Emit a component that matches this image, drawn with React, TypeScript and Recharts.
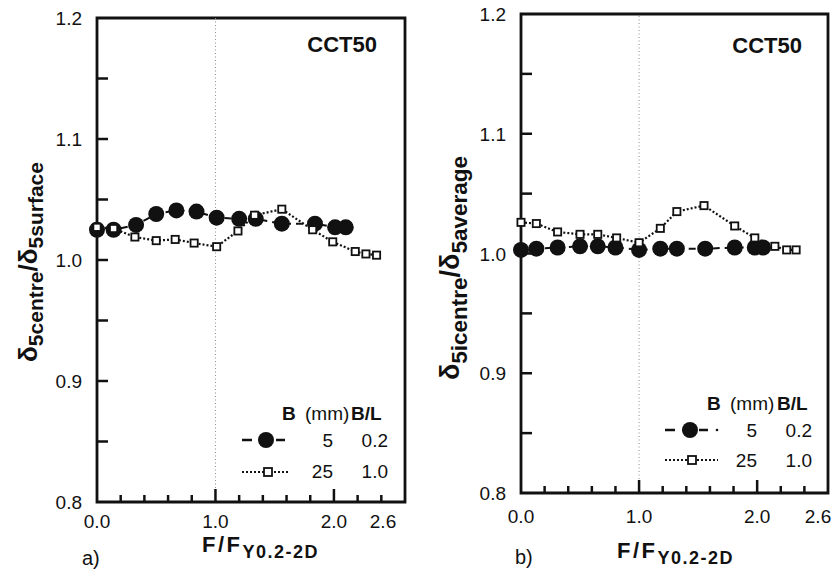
import React from 'react';
import { ComposedChart, Line, XAxis, YAxis, ReferenceLine, ReferenceArea, Legend } from 'recharts';

const FONT = '"Liberation Sans", Arial, Helvetica, sans-serif';
const INK = '#111111';

// axis ticks
const xTicks = [0, 0.2, 0.4, 0.6, 0.8, 1.0, 1.2, 1.4, 1.6, 1.8, 2.0, 2.2, 2.4, 2.6];
const xTickLabels = [0, 1, 2, 2.6];
const xMajorTicks = [1, 2];
const yTicks = [0.8, 0.85, 0.9, 0.95, 1.0, 1.05, 1.1, 1.15, 1.2];
const yTickLabels = [0.8, 0.9, 1.0, 1.1, 1.2];
const xDomain: [number, number] = [0, 2.6];
const yDomain: [number, number] = [0.8, 1.2];

// panel a) δ5centre/δ5surface
const aB5x = [0.0, 0.14, 0.33, 0.5, 0.67, 0.84, 1.01, 1.2, 1.34, 1.56, 1.84, 2.01, 2.1];
const aB5y = [1.025, 1.025, 1.029, 1.038, 1.041, 1.04, 1.035, 1.034, 1.034, 1.03, 1.03, 1.027, 1.027];
const aB25x = [0.0, 0.14, 0.32, 0.5, 0.66, 0.82, 1.01, 1.19, 1.33, 1.56, 1.82, 1.99, 2.18, 2.27, 2.36];
const aB25y = [1.027, 1.026, 1.019, 1.016, 1.017, 1.014, 1.011, 1.024, 1.037, 1.042, 1.025, 1.015, 1.007, 1.005, 1.004];

// panel b) δ5centre/δ5average
const bB5x = [0.0, 0.13, 0.31, 0.5, 0.65, 0.8, 1.0, 1.18, 1.32, 1.56, 1.81, 1.98, 2.05];
const bB5y = [1.003, 1.004, 1.005, 1.006, 1.006, 1.005, 1.003, 1.004, 1.004, 1.004, 1.005, 1.005, 1.005];
const bB25x = [0.0, 0.13, 0.31, 0.5, 0.65, 0.81, 1.0, 1.18, 1.32, 1.55, 1.81, 1.98, 2.15, 2.25, 2.33];
const bB25y = [1.026, 1.025, 1.018, 1.016, 1.016, 1.013, 1.009, 1.021, 1.035, 1.04, 1.023, 1.013, 1.006, 1.003, 1.003];

// legend text
const legendHead = ['B', '(mm)', 'B/L'];
const legendB = ['5', '25'];
const legendBL = ['0.2', '1.0'];

const zip = (xs: number[], ys: number[]) => xs.map((x, i) => ({ x, y: ys[i] }));
const near = (a: number, b: number) => Math.abs(a - b) < 1e-6;
const has = (arr: number[], v: number) => arr.some((a) => near(a, v));

const X_MINOR = 7;
const X_MAJOR = 13;
const Y_TICK = 11;
const TICK_STYLE = { stroke: INK, strokeWidth: 2.5, fill: 'none' };

const isXEdge = (v: number) => near(v, xDomain[0]) || near(v, xDomain[1]);
const isYEdge = (v: number) => near(v, yDomain[0]) || near(v, yDomain[1]);

function BottomTick(props: any) {
  const x = Number(props.x);
  const y = Number(props.y);
  const v = props.payload.value;
  const len = has(xMajorTicks, v) ? X_MAJOR : X_MINOR;
  return (
    <g>
      {!isXEdge(v) && <path d={`M${x},${y}L${x},${y - len}`} style={TICK_STYLE} />}
      {has(xTickLabels, v) && (
        <text x={x + (near(v, xDomain[1]) ? props.lastShift : 0)} y={y + props.labelDy} textAnchor="middle"
          style={{ fontSize: 19, fontFamily: FONT, fill: INK, stroke: 'none' }}>
          {v.toFixed(1)}
        </text>
      )}
    </g>
  );
}

function TopTick(props: any) {
  const x = Number(props.x);
  const y = Number(props.y);
  const v = props.payload.value;
  const len = has(xMajorTicks, v) ? X_MAJOR - 2 : X_MINOR;
  return <g>{!isXEdge(v) && <path d={`M${x},${y}L${x},${y + len}`} style={TICK_STYLE} />}</g>;
}

function LeftTick(props: any) {
  const x = Number(props.x);
  const y = Number(props.y);
  const v = props.payload.value;
  return (
    <g>
      {!isYEdge(v) && <path d={`M${x},${y}L${x + Y_TICK},${y}`} style={TICK_STYLE} />}
      {has(yTickLabels, v) && (
        <text x={x - 15} y={y + 7} textAnchor="end" style={{ fontSize: 19, fontFamily: FONT, fill: INK, stroke: 'none' }}>
          {v.toFixed(1)}
        </text>
      )}
    </g>
  );
}

function RightTick(props: any) {
  const x = Number(props.x);
  const y = Number(props.y);
  const v = props.payload.value;
  return <g>{!isYEdge(v) && <path d={`M${x},${y}L${x - Y_TICK},${y}`} style={TICK_STYLE} />}</g>;
}

const circleDot = (p: any) => <circle key={`c${p.index}`} cx={p.cx} cy={p.cy} r={8} fill={INK} />;
const squareDot = (p: any) => (
  <rect key={`s${p.index}`} x={p.cx - 3.6} y={p.cy - 3.6} width={7.2} height={7.2} fill="#fff" stroke={INK} strokeWidth={1.8} />
);

function LegendBox({ cfg }: { cfg: any }) {
  const t = { fontFamily: FONT, fontSize: 19, fill: INK };
  return (
    <svg width={170} height={95} style={{ display: 'block', overflow: 'visible' }}>
      <text {...t} x={cfg.bX} y={cfg.headY} fontWeight="bold">{legendHead[0]}</text>
      <text {...t} x={cfg.mmX} y={cfg.headY}>{legendHead[1]}</text>
      <text {...t} x={cfg.blX} y={cfg.headY} fontWeight="bold">{legendHead[2]}</text>

      <line x1={cfg.symL} y1={cfg.r1c} x2={cfg.symR} y2={cfg.r1c} stroke={INK} strokeWidth={2.5} strokeDasharray="10 7" />
      {cfg.tailDot && <circle cx={cfg.symR + 9} cy={cfg.r1c} r={1.3} fill={INK} />}
      <circle cx={cfg.circX} cy={cfg.r1c} r={8} fill={INK} />
      <text {...t} x={cfg.numEnd} y={cfg.r1b} textAnchor="end">{legendB[0]}</text>
      <text {...t} x={cfg.ratioEnd} y={cfg.r1b} textAnchor="end">{legendBL[0]}</text>

      <line x1={cfg.symL} y1={cfg.r2c} x2={cfg.symR2} y2={cfg.r2c} stroke={INK} strokeWidth={2} strokeDasharray="2 2" />
      <rect x={cfg.sqX - 4} y={cfg.r2c - 4} width={8} height={8} fill="#fff" stroke={INK} strokeWidth={1.8} />
      <text {...t} x={cfg.numEnd} y={cfg.r2b} textAnchor="end">{legendB[1]}</text>
      <text {...t} x={cfg.ratioEnd} y={cfg.r2b} textAnchor="end">{legendBL[1]}</text>
    </svg>
  );
}

function Panel(props: any) {
  const { width, height, margin, circles, squares, legendCfg, legendPos, lastShift, labelDy } = props;
  const common = { axisLine: false, tickLine: false, tickSize: 0, tickMargin: 0, interval: 0 as const };
  return (
    <ComposedChart width={width} height={height} margin={margin}>
      <XAxis
        {...common} xAxisId="b" type="number" dataKey="x" domain={xDomain} ticks={xTicks} height={1}
        tick={(p: any) => <BottomTick {...p} lastShift={lastShift} labelDy={labelDy} />}
      />
      <XAxis
        {...common} xAxisId="t" orientation="top" type="number" dataKey="x" domain={xDomain} ticks={xTicks} height={1}
        tick={(p: any) => <TopTick {...p} />}
      />
      <YAxis
        {...common} yAxisId="l" type="number" domain={yDomain} ticks={yTicks} width={1}
        tick={(p: any) => <LeftTick {...p} />}
      />
      <YAxis
        {...common} yAxisId="r" orientation="right" type="number" domain={yDomain} ticks={yTicks} width={1}
        tick={(p: any) => <RightTick {...p} />}
      />
      <ReferenceArea
        xAxisId="b" yAxisId="l" x1={xDomain[0]} x2={xDomain[1]} y1={yDomain[0]} y2={yDomain[1]}
        fill="none" fillOpacity={0} stroke={INK} strokeWidth={2.8} ifOverflow="visible"
      />
      <ReferenceLine xAxisId="b" yAxisId="l" x={1} stroke="#8a8a8a" strokeWidth={1} strokeDasharray="1 2.5" />
      <Line
        xAxisId="b" yAxisId="l" data={circles} dataKey="y" type="linear" stroke={INK} strokeWidth={2}
        strokeDasharray="7 5" dot={circleDot} activeDot={false} isAnimationActive={false} name="B5"
      />
      <Line
        xAxisId="b" yAxisId="l" data={squares} dataKey="y" type="linear" stroke={INK} strokeWidth={2.2}
        strokeDasharray="2 2" dot={squareDot} activeDot={false} isAnimationActive={false} name="B25"
      />
      <Legend
        layout="horizontal" verticalAlign="middle" align="center"
        wrapperStyle={{ position: 'absolute', left: legendPos.left, top: legendPos.top, width: 170, height: 95 }}
        content={() => <LegendBox cfg={legendCfg} />}
      />
    </ComposedChart>
  );
}

const legendA = {
  headY: 22, bX: 44, mmX: 67, blX: 113,
  r1c: 42, r1b: 49, r2c: 74, r2b: 80,
  symL: 4, symR: 47, symR2: 50, circX: 28, sqX: 30,
  numEnd: 95, ratioEnd: 150, tailDot: false,
};
const legendB5 = {
  headY: 25, bX: 47, mmX: 70, blX: 117,
  r1c: 45, r1b: 52, r2c: 75, r2b: 82,
  symL: 5, symR: 48, symR2: 58, circX: 30, sqX: 32,
  numEnd: 97, ratioEnd: 152, tailDot: true,
};

export default function App() {
  const txt = { fontFamily: FONT, fill: INK };
  return (
    <div style={{ position: 'absolute', left: 0, top: 0, width: 835, height: 580, background: '#fff', overflow: 'hidden' }}>
      <div style={{ position: 'absolute', left: 0, top: 0 }}>
        <Panel
          width={420} height={580} margin={{ top: 17, left: 96, right: 14, bottom: 77 }}
          circles={zip(aB5x, aB5y)} squares={zip(aB25x, aB25y)}
          legendCfg={legendA} legendPos={{ left: 238, top: 398 }} lastShift={-22} labelDy={26}
        />
      </div>
      <div style={{ position: 'absolute', left: 420, top: 0 }}>
        <Panel
          width={415} height={580} margin={{ top: 13, left: 100, right: 6, bottom: 86 }}
          circles={zip(bB5x, bB5y)} squares={zip(bB25x, bB25y)}
          legendCfg={legendB5} legendPos={{ left: 240, top: 385 }} lastShift={-10} labelDy={30}
        />
      </div>
      <svg width={835} height={580} style={{ position: 'absolute', left: 0, top: 0, pointerEvents: 'none' }}>
        <text {...txt} x={377} y={52} textAnchor="end" fontSize={22} fontWeight="bold">CCT50</text>
        <text {...txt} x={802} y={53} textAnchor="end" fontSize={22} fontWeight="bold">CCT50</text>

        <text {...txt} x={82} y={565} fontSize={20}>a)</text>
        <text {...txt} x={515} y={564} fontSize={20}>b)</text>

        <text {...txt} x={202} y={552} fontSize={22} fontWeight="bold" letterSpacing={2.5}>
          F/F<tspan fontSize={18} dy={6} letterSpacing={1.5}>Y0.2-2D</tspan>
        </text>
        <text {...txt} x={617} y={558} fontSize={22} fontWeight="bold" letterSpacing={2.5}>
          F/F<tspan fontSize={18} dy={6} letterSpacing={1.5}>Y0.2-2D</tspan>
        </text>

        <text {...txt} transform="translate(37,262) rotate(-90)" textAnchor="middle" fontWeight="bold">
          <tspan fontSize={26}>δ</tspan>
          <tspan fontSize={21} dy={6}>5centre</tspan>
          <tspan fontSize={26} dy={-6}>/δ</tspan>
          <tspan fontSize={21} dy={6}>5surface</tspan>
        </text>
        <text {...txt} transform="translate(459,268) rotate(-90)" textAnchor="middle" fontWeight="bold">
          <tspan fontSize={27}>δ</tspan>
          <tspan fontSize={22.5} dy={8}>5icentre</tspan>
          <tspan fontSize={27} dy={-8}>/δ</tspan>
          <tspan fontSize={22.5} dy={8}>5average</tspan>
        </text>
      </svg>
    </div>
  );
}
